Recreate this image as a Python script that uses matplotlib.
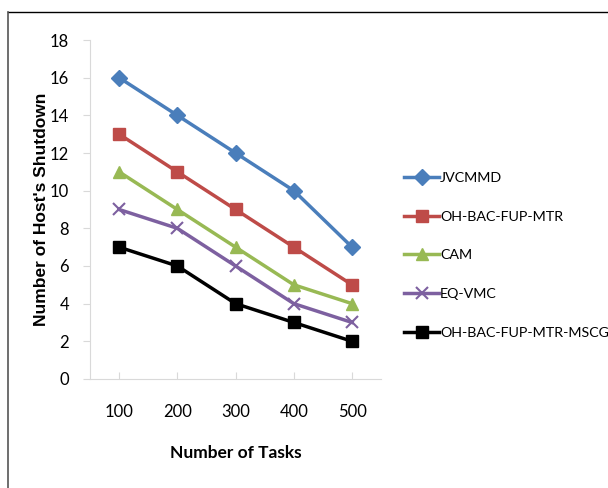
import numpy as np
import matplotlib
matplotlib.use("Agg")
import matplotlib.pyplot as plt
from matplotlib.lines import Line2D

# =========================
# DATA
# =========================
tasks = ["100", "200", "300", "400", "500"]
jvcmmd = [16, 14, 12, 10, 7]
oh_bac = [13, 11, 9, 7, 5]
cam = [11, 9, 7, 5, 4]
eq_vmc = [9, 8, 6, 4, 3]
mscg = [7, 6, 4, 3, 2]

series = [
    ("JVCMMD", jvcmmd, "#4A7EBB", "D", 8),
    ("OH-BAC-FUP-MTR", oh_bac, "#BE4B48", "s", 9),
    ("CAM", cam, "#98B954", "^", 9),
    ("EQ-VMC", eq_vmc, "#7D60A0", "x", 9),
    ("OH-BAC-FUP-MTR-MSCG", mscg, "#000000", "s", 8),
]

narrow = ["Lato", "DejaVu Sans"]

fig = plt.figure(figsize=(6.08, 4.88), dpi=100)
ax = fig.add_axes([0.148, 0.2234, 0.479, 0.6946])

x = np.arange(len(tasks))
for name, vals, color, marker, ms in series:
    ax.plot(x, vals, color=color, linewidth=2.5, marker=marker, markersize=ms,
            markeredgewidth=1.5 if marker == "x" else 1, label=name)

ax.set_xlim(-0.5, len(tasks) - 0.5)
ax.set_ylim(0, 18)
ax.set_yticks(range(0, 19, 2))
ax.set_xticks(x)
ax.set_xticklabels(tasks)

for side in ["top", "right"]:
    ax.spines[side].set_visible(False)
ax.spines["left"].set_color("#D9D9D9")
ax.spines["bottom"].set_color("#D9D9D9")
ax.tick_params(axis="y", colors="#D9D9D9", labelcolor="black", length=5, pad=10)
ax.tick_params(axis="x", colors="#D9D9D9", labelcolor="black", direction="in",
               length=5, pad=18)
for lab in ax.get_xticklabels() + ax.get_yticklabels():
    lab.set_family(narrow)
    lab.set_fontsize(12)

ax.set_xlabel("Number of Tasks", family=narrow, fontsize=12.5, fontweight="bold",
              labelpad=18)
ax.set_ylabel("Number of Host's Shutdown", family="Liberation Sans", fontsize=12.5,
              fontweight="bold", labelpad=1)

leg = ax.legend(loc="upper left", bbox_to_anchor=(1.06, 0.627), frameon=False,
                prop={"family": narrow, "size": 10.3}, handlelength=2.4,
                handletextpad=0.1, labelspacing=1.86, borderaxespad=0)

# outer frame (cropped chart border)
fig.add_artist(Line2D([8 / 608, 1.0], [1 - 12 / 488, 1 - 12 / 488],
                      transform=fig.transFigure, color="black", linewidth=1))
fig.add_artist(Line2D([8 / 608, 8 / 608], [0.0, 1 - 12 / 488],
                      transform=fig.transFigure, color="#555555", linewidth=1.2))

fig.savefig("out.png", dpi=100)
